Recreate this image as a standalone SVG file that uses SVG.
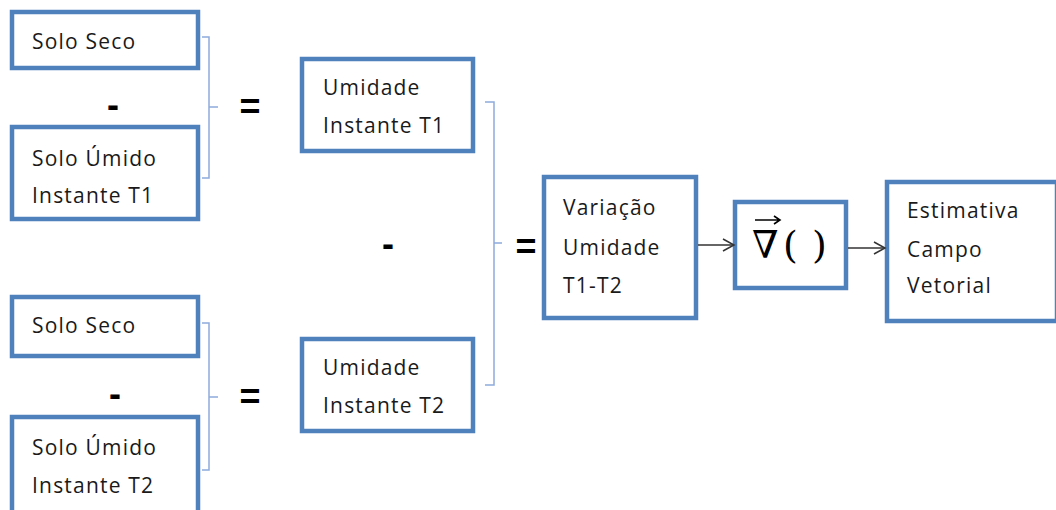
<svg xmlns="http://www.w3.org/2000/svg" width="1056" height="510" viewBox="0 0 1056 510">
<defs>
<style>
.box{fill:#fff;stroke:#4f81bd;stroke-width:4.5}
.t{font-family:"Open Sans","Liberation Sans",sans-serif;font-size:21px;fill:#1a1a1a;letter-spacing:1.2px}
.op{font-family:"Liberation Sans",sans-serif;font-size:36px;font-weight:bold;fill:#000;text-anchor:middle}
.br{fill:none;stroke:#8faadc;stroke-width:1.5}
.ar{fill:none;stroke:#333;stroke-width:1.5}
.sym{font-family:"DejaVu Serif",serif;font-size:38px;fill:#000}
</style>
<marker id="ah" markerWidth="14" markerHeight="14" refX="12" refY="7" orient="auto" markerUnits="userSpaceOnUse">
<path d="M1,1 L12,7 L1,13" fill="none" stroke="#333" stroke-width="1.5"/>
</marker>
</defs>
<g id="n1"><rect class="box" x="12" y="12" width="186" height="56"/><text class="t" x="32" y="49">Solo Seco</text></g>
<g id="n2"><rect class="box" x="12" y="127" width="186" height="92"/><text class="t" x="32" y="166">Solo Úmido</text><text class="t" x="32" y="203">Instante T1</text></g>
<g id="n3"><rect class="box" x="12" y="297" width="186" height="59"/><text class="t" x="32" y="333">Solo Seco</text></g>
<g id="n4"><rect class="box" x="12" y="417" width="186" height="100"/><text class="t" x="32" y="455">Solo Úmido</text><text class="t" x="32" y="493">Instante T2</text></g>
<g id="n5"><rect class="box" x="302" y="59" width="171" height="92"/><text class="t" x="323" y="95">Umidade</text><text class="t" x="323" y="133">Instante T1</text></g>
<g id="n6"><rect class="box" x="302" y="339" width="171" height="92"/><text class="t" x="323" y="375">Umidade</text><text class="t" x="323" y="413">Instante T2</text></g>
<g id="n7"><rect class="box" x="544" y="177" width="152" height="141"/><text class="t" x="563" y="215">Variação</text><text class="t" x="563" y="255">Umidade</text><text class="t" x="563" y="293">T1-T2</text></g>
<g id="n8"><rect class="box" x="735" y="202" width="111" height="86"/>
<text class="sym" x="752" y="258">∇</text>
<path d="M755,220 H779 M774,216 L780,220 L774,224" fill="none" stroke="#000" stroke-width="1.6"/>
<text class="sym" x="783" y="258">(</text>
<text class="sym" x="812" y="258">)</text>
</g>
<g id="n9"><rect class="box" x="887" y="182" width="170" height="139"/><text class="t" x="907" y="218">Estimativa</text><text class="t" x="907" y="257">Campo</text><text class="t" x="907" y="293">Vetorial</text></g>
<g id="ops">
<text class="op" x="113" y="117">-</text>
<text class="op" x="250" y="119">=</text>
<text class="op" x="115" y="406">-</text>
<text class="op" x="250" y="409">=</text>
<text class="op" x="388" y="256">-</text>
<text class="op" x="526" y="259">=</text>
</g>
<g id="connectors">
<path class="br" d="M202,37 H209 V178 H202 M209,107 H218"/>
<path class="br" d="M202,323 H209 V470 H202 M209,397 H218"/>
<path class="br" d="M485,102 H494 V385 H485 M494,243 H502"/>
<line class="ar" x1="698" y1="245" x2="734" y2="245" marker-end="url(#ah)"/>
<line class="ar" x1="848" y1="248" x2="885" y2="248" marker-end="url(#ah)"/>
</g>
</svg>
